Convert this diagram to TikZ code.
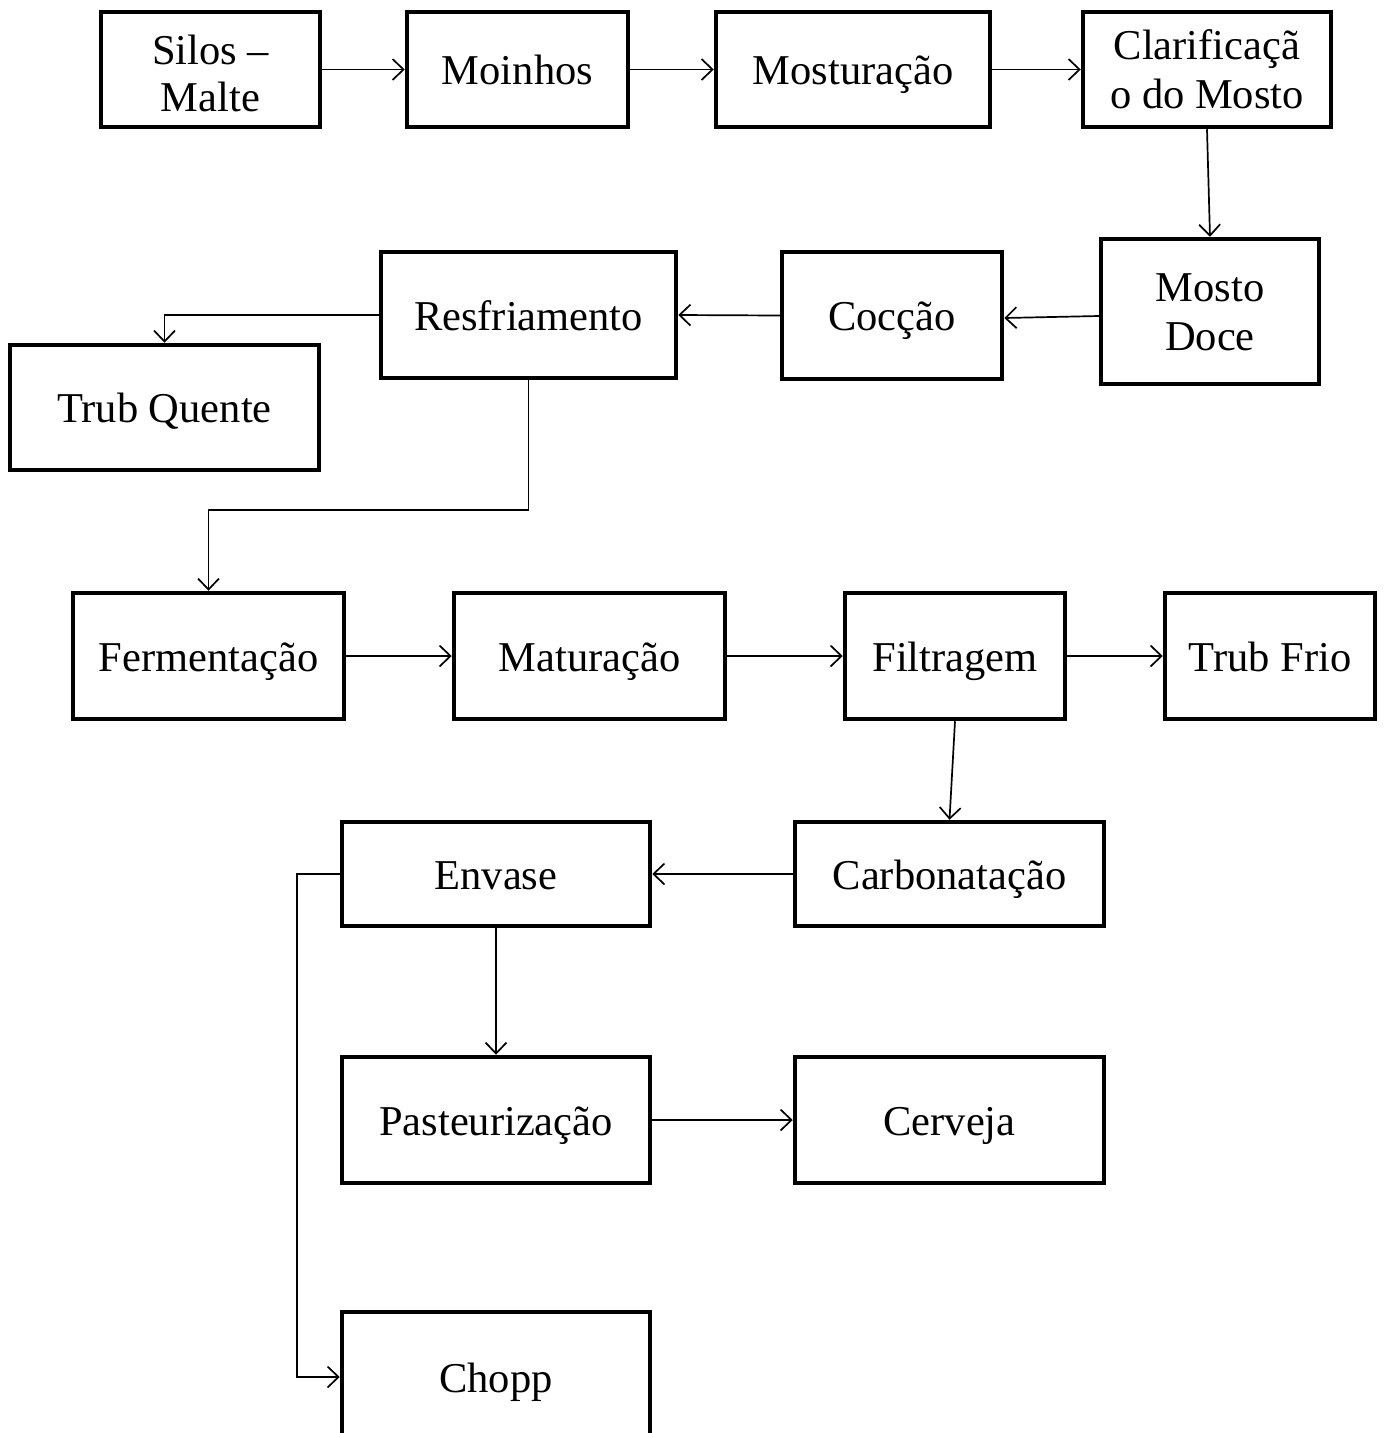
\documentclass[tikz,border=0pt]{standalone}
\usepackage{fontspec}
\setmainfont{Liberation Serif}
\usetikzlibrary{arrows.meta}
\begin{document}
\begin{tikzpicture}[x=1pt,y=-1pt,
  box/.style={draw, line width=4.5pt, inner sep=0pt, align=center,
    text height=30.5pt, text depth=0.5pt,
    font=\fontsize{42.5}{49}\selectfont},
  conn/.style={line width=1.7pt, -{Straight Barb[length=11pt,width=21pt,line width=1.7pt]}}]
\useasboundingbox (0,0) rectangle (1384,1433);
\clip (0,0) rectangle (1384,1433);
\node[box, minimum width=219pt, minimum height=115pt, text height=85pt,
  font=\fontsize{42.5}{47}\selectfont] (silos) at (210.5,69.5) {Silos –\\Malte};
\node[box, minimum width=221pt, minimum height=115pt] (moinhos) at (517.5,69.5) {Moinhos};
\node[box, minimum width=274pt, minimum height=115pt] (mostura) at (853,69.5) {Mosturação};
\node[box, minimum width=248pt, minimum height=115pt, text height=79pt] (clarif) at (1207,69.5) {Clarificaçã\\o do Mosto};
\node[box, minimum width=218pt, minimum height=145pt, text height=79pt] (mosto) at (1210,311.5) {Mosto\\Doce};
\node[box, minimum width=220pt, minimum height=127pt] (coccao) at (892,315.5) {Cocção};
\node[box, minimum width=295pt, minimum height=126pt] (resfr) at (528.5,315) {Resfriamento};
\node[box, minimum width=309pt, minimum height=125pt] (trubq) at (164.5,407.5) {Trub Quente};
\node[box, minimum width=271pt, minimum height=126pt] (ferm) at (208.5,656) {Fermentação};
\node[box, minimum width=271pt, minimum height=126pt] (matur) at (589.5,656) {Maturação};
\node[box, minimum width=220pt, minimum height=126pt] (filtr) at (955,656) {Filtragem};
\node[box, minimum width=210pt, minimum height=126pt] (trubf) at (1270,656) {Trub Frio};
\node[box, minimum width=309pt, minimum height=104pt] (carb) at (949.5,874) {Carbonatação};
\node[box, minimum width=308pt, minimum height=104pt] (envase) at (496,874) {Envase};
\node[box, minimum width=308pt, minimum height=126pt] (pasteur) at (496,1120) {Pasteurização};
\node[box, minimum width=309pt, minimum height=126pt] (cerveja) at (949.5,1120) {Cerveja};
\node[box, minimum width=308pt, minimum height=130pt] (chopp) at (496,1377) {Chopp};
\coordinate (j1) at (528.5,510);
\coordinate (j2) at (297,874);
\draw[conn] (silos.east) -- (moinhos.west);
\draw[conn] (moinhos.east) -- (mostura.west);
\draw[conn] (mostura.east) -- (clarif.west);
\draw[conn] (clarif.south) -- (mosto.north);
\draw[conn] ([yshift=-4.5pt]mosto.west) -- ([yshift=-2.5pt]coccao.east);
\draw[conn] (coccao.west) -- (resfr.east);
\draw[conn] (resfr.west) -| (trubq.north);
\draw[conn] (resfr.south) -- (j1) -| (ferm.north);
\draw[conn] (ferm.east) -- (matur.west);
\draw[conn] (matur.east) -- (filtr.west);
\draw[conn] (filtr.east) -- (trubf.west);
\draw[conn] (filtr.south) -- (carb.north);
\draw[conn] (carb.west) -- (envase.east);
\draw[conn] (envase.south) -- (pasteur.north);
\draw[conn] (pasteur.east) -- (cerveja.west);
\draw[conn] (envase.west) -- (j2) |- (chopp.west);
\end{tikzpicture}
\end{document}
